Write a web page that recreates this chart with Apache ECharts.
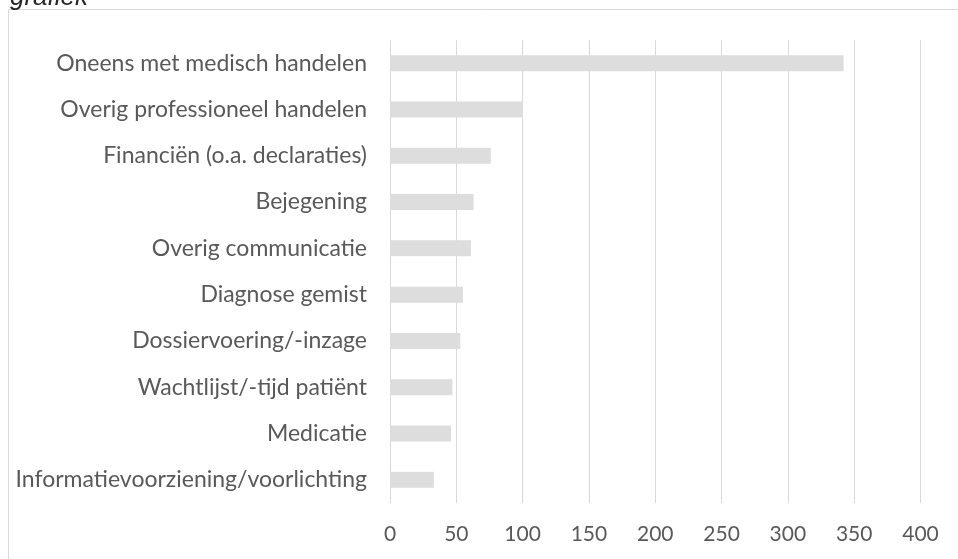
<!DOCTYPE html>
<html>
<head>
<meta charset="utf-8">
<script src="https://cdn.jsdelivr.net/npm/echarts@6/dist/echarts.min.js"></script>
<style>
  html, body { margin: 0; padding: 0; background: #fff; }
  #chart { width: 958px; height: 559px; }
</style>
</head>
<body>
<div id="chart"></div>
<script>
    // klachten per categorie
    var categories = ['Oneens met medisch handelen', 'Overig professioneel handelen', 'Financiën (o.a. declaraties)',
        'Bejegening', 'Overig communicatie', 'Diagnose gemist', 'Dossiervoering/-inzage',
        'Wachtlijst/-tijd patiënt', 'Medicatie', 'Informatievoorziening/voorlichting'];
    var values = [342, 100, 76, 63, 61, 55, 53, 47, 46, 33];
    var xTicks = [0, 50, 100, 150, 200, 250, 300, 350, 400];

    var font = 'Lato';
    var option = {
        animation: false,
        backgroundColor: '#fff',
        graphic: [
            { type: 'rect', shape: { x: 8.5, y: 9.5, width: 960, height: 560 },
              style: { fill: 'none', stroke: '#d9d9d9', lineWidth: 1 } },
            { type: 'text', x: 10, y: 11,
              style: { text: 'grafiek', font: 'italic 26px "Liberation Sans"', fill: '#262626',
                       verticalAlign: 'bottom' } }
        ],
        grid: { left: 390, right: 37.5, top: 40, bottom: 56 },
        xAxis: {
            type: 'value',
            min: xTicks[0],
            max: xTicks[xTicks.length - 1],
            interval: 50,
            axisLine: { show: false },
            axisTick: { show: false },
            splitLine: { lineStyle: { color: '#d9d9d9', width: 1 } },
            axisLabel: { color: '#595959', fontSize: 21, fontFamily: font, margin: 21 }
        },
        yAxis: {
            type: 'category',
            inverse: true,
            data: categories,
            axisLine: { show: false },
            axisTick: { show: false },
            axisLabel: { color: '#595959', fontSize: 23, fontFamily: font, margin: 23 }
        },
        series: [{
            type: 'bar',
            data: values,
            barWidth: 16,
            itemStyle: { color: '#dddddd' }
        }]
    };
    var myecharts = echarts.init(document.getElementById('chart'));
    myecharts.setOption(option);
</script>
</body>
</html>
